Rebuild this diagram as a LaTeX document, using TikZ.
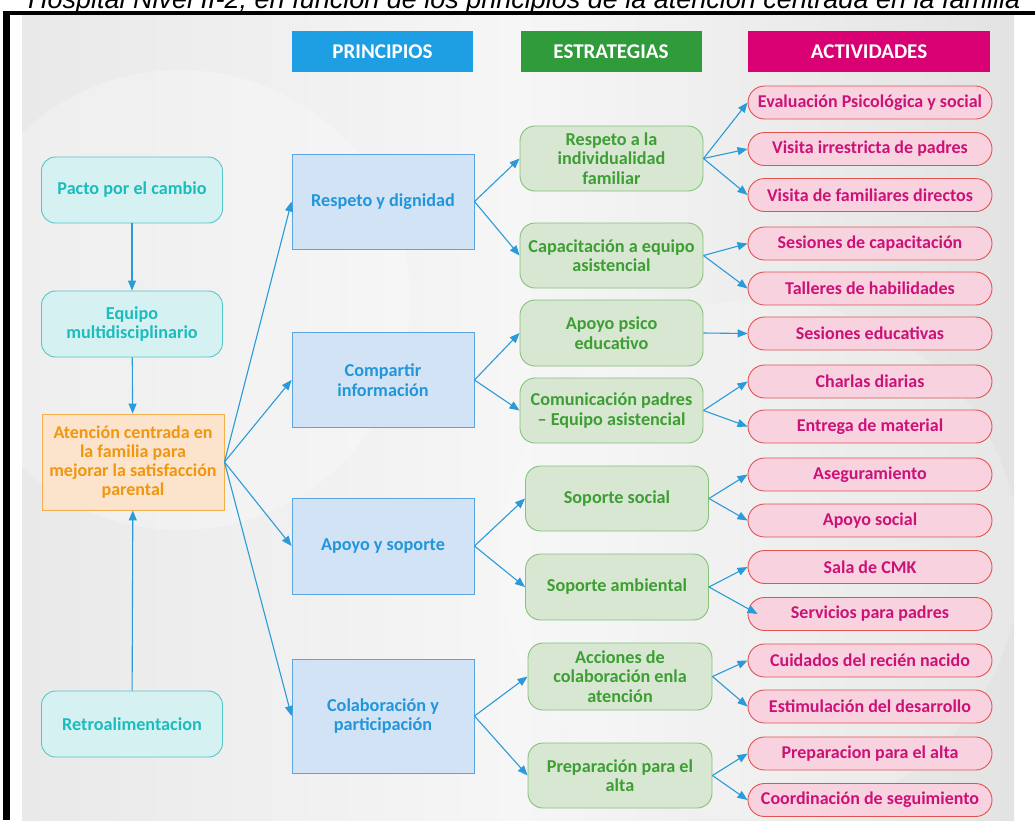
\documentclass[tikz,border=0pt]{standalone}
\usepackage{fontspec}
\setmainfont{Carlito}
\newfontfamily\titlefont{Liberation Sans}
\usetikzlibrary{arrows.meta}
\definecolor{hblue}{HTML}{1E9FE3}
\definecolor{hgreen}{HTML}{2F9B3A}
\definecolor{hmag}{HTML}{D80073}
\definecolor{tealT}{HTML}{1BBCBE}
\definecolor{tealF}{HTML}{D6F1F1}
\definecolor{tealB}{HTML}{55C6C6}
\definecolor{orT}{HTML}{F0960F}
\definecolor{orF}{HTML}{FCE3CB}
\definecolor{orB}{HTML}{F3AE4E}
\definecolor{pT}{HTML}{2196D9}
\definecolor{pF}{HTML}{D3E3F6}
\definecolor{pB}{HTML}{5AA5DF}
\definecolor{sT}{HTML}{3D9E34}
\definecolor{sF}{HTML}{D8E7D2}
\definecolor{sB}{HTML}{84C27A}
\definecolor{aT}{HTML}{CC1177}
\definecolor{aF}{HTML}{F8D3DF}
\definecolor{aB}{HTML}{E2534F}
\definecolor{arr}{HTML}{2A9BD8}
\definecolor{bgL}{HTML}{E9E9E9}
\definecolor{bgM}{HTML}{F6F6F6}
\definecolor{bgR}{HTML}{E3E3E3}
\tikzset{
  base/.style={align=center, inner sep=0pt, line width=0.9pt, font=\bfseries\fontsize{18.2}{19.5}\selectfont},
  lbox/.style={base, draw=tealB, fill=tealF, text=tealT, rounded corners=14pt, minimum width=181pt, minimum height=66pt},
  obox/.style={base, draw=orB, fill=orF, text=orT, minimum width=182pt, minimum height=96pt, font=\bfseries\fontsize{18}{19}\selectfont},
  pbox/.style={base, draw=pB, fill=pF, text=pT, minimum width=182pt, minimum height=95pt},
  sbox/.style={base, draw=sB, fill=sF, text=sT, rounded corners=15pt, minimum width=183pt, minimum height=65pt},
  abox/.style={base, draw=aB, fill=aF, text=aT, rounded corners=16.5pt, minimum width=244pt, minimum height=33pt, font=\bfseries\fontsize{18}{20}\selectfont},
  hdr/.style={inner sep=0pt, text=white, minimum width=181pt, minimum height=41pt, font=\bfseries\fontsize{21}{24}\selectfont},
  conn/.style={draw=arr, line width=1.1pt, -{Triangle[length=10pt,width=8pt]}}
}
\begin{document}
\begin{tikzpicture}[x=1pt,y=-1pt]
\useasboundingbox (0,0) rectangle (1035,820);
% frame and background
\shade[left color=bgL, right color=bgR, middle color=bgM] (22,15) rectangle (1014,820);
\fill[white, opacity=0.25] (180,300) circle (230);
\fill[white, opacity=0.18] (760,560) circle (260);
\fill[black] (3,11) rectangle (10,820);
\fill[black] (3,11) rectangle (1035,14.5);
\node[anchor=base west, inner sep=0pt, font=\titlefont\itshape\fontsize{27}{30}\selectfont] (title) at (28,8.5) {Hospital Nivel II-2, en función de los principios de la atención centrada en la familia};
% headers
\node[hdr, fill=hblue] (h1) at (382.5,51.5) {PRINCIPIOS};
\node[hdr, fill=hgreen] (h2) at (611,51.5) {ESTRATEGIAS};
\node[hdr, fill=hmag, minimum width=242pt] (h3) at (869,51.5) {ACTIVIDADES};
% left column
\node[lbox] (pacto) at (132,190) {Pacto por el cambio};
\node[lbox] (equipo) at (132,324) {Equipo\\multidisciplinario};
\node[obox] (aten) at (133,462) {Atención centrada en\\la familia para\\mejorar la satisfacción\\parental};
\node[lbox] (retro) at (132,724) {Retroalimentacion};
% principles
\node[pbox] (p1) at (383,201.5) {Respeto y dignidad};
\node[pbox] (p2) at (383,380) {Compartir\\información};
\node[pbox, minimum height=96pt] (p3) at (383,546) {Apoyo y soporte};
\node[pbox, minimum height=114pt] (p4) at (383,716) {Colaboración y\\participación};
% strategies
\node[sbox] (s1) at (611.5,158.5) {Respeto a la\\individualidad\\familiar};
\node[sbox] (s2) at (611.5,255.5) {Capacitación a equipo\\asistencial};
\node[sbox, minimum height=66pt] (s3) at (611.5,333) {Apoyo psico\\educativo};
\node[sbox] (s4) at (611.5,410.5) {Comunicación padres\\– Equipo asistencial};
\node[sbox] (s5) at (617,498.5) {Soporte social};
\node[sbox, minimum height=66pt] (s6) at (617,587) {Soporte ambiental};
\node[sbox, minimum height=67pt, minimum width=184pt] (s7) at (620,676.5) {Acciones de\\colaboración enla\\atención};
\node[sbox, minimum width=184pt] (s8) at (620,775.5) {Preparación para el\\alta};
% activities
\node[abox] (a1) at (870,102.5) {Evaluación Psicológica y social};
\node[abox] (a2) at (870,149) {Visita irrestricta de padres};
\node[abox] (a3) at (870,195) {Visita de familiares directos};
\node[abox] (a4) at (870,243.5) {Sesiones de capacitación};
\node[abox] (a5) at (870,288.5) {Talleres de habilidades};
\node[abox] (a6) at (870,333.5) {Sesiones educativas};
\node[abox] (a7) at (870,381.5) {Charlas diarias};
\node[abox] (a8) at (870,426.5) {Entrega de material};
\node[abox] (a9) at (870,474.5) {Aseguramiento};
\node[abox] (a10) at (870,520.5) {Apoyo social};
\node[abox] (a11) at (870,567) {Sala de CMK};
\node[abox] (a12) at (870,614) {Servicios para padres};
\node[abox] (a13) at (870,660.5) {Cuidados del recién nacido};
\node[abox] (a14) at (870,706.5) {Estimulación del desarrollo};
\node[abox] (a15) at (870,753.5) {Preparacion para el alta};
\node[abox] (a16) at (870,800) {Coordinación de seguimiento};
% connectors
\draw[conn] (pacto) -- (equipo);
\draw[conn] (equipo) -- (aten);
\draw[conn] (retro) -- (aten);
\foreach \p in {p1,p2,p3,p4} \draw[conn] (aten.east) -- (\p.west);
\draw[conn] (p1.east) -- (s1.west);
\draw[conn] (p1.east) -- (s2.west);
\draw[conn] (p2.east) -- (s3.west);
\draw[conn] (p2.east) -- (s4.west);
\draw[conn] (p3.east) -- (s5.west);
\draw[conn] (p3.east) -- (s6.west);
\draw[conn] (p4.east) -- (s7.west);
\draw[conn] (p4.east) -- (s8.west);
\foreach \a in {a1,a2,a3} \draw[conn] (s1.east) -- (\a.west);
\foreach \a in {a4,a5} \draw[conn] (s2.east) -- (\a.west);
\draw[conn] (s3.east) -- (a6.west);
\foreach \a in {a7,a8} \draw[conn] (s4.east) -- (\a.west);
\foreach \a in {a9,a10} \draw[conn] (s5.east) -- (\a.west);
\draw[conn] (s6.east) -- (a11.west);
\draw[conn] (s6.east) -- ([xshift=10pt]a12.west);
\foreach \a in {a13,a14} \draw[conn] (s7.east) -- (\a.west);
\foreach \a in {a15,a16} \draw[conn] (s8.east) -- (\a.west);
\end{tikzpicture}
\end{document}
